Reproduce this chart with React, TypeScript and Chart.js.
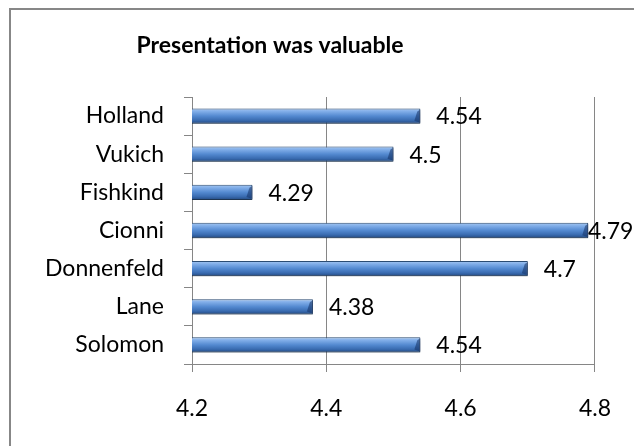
import React, { useEffect, useRef } from "react";
import { Chart, registerables } from "chart.js";

Chart.register(...registerables);

const categories = ["Holland", "Vukich", "Fishkind", "Cionni", "Donnenfeld", "Lane", "Solomon"];
const values = [4.54, 4.5, 4.29, 4.79, 4.7, 4.38, 4.54];
const titleText = "Presentation was valuable";
const xMin = 4.2;
const xMax = 4.8;
const xStep = 0.2;

const FONT = "Lato, 'Open Sans', 'DejaVu Sans', sans-serif";
const LABEL_SIZE = 23;
const BAR_PCT = 0.4;

const framePlugin = {
  id: "frame",
  beforeDraw(chart: any) {
    const c = chart.ctx;
    c.save();
    c.fillStyle = "#ffffff";
    c.fillRect(0, 0, chart.width, chart.height);
    c.strokeStyle = "#878787";
    c.lineWidth = 2;
    c.beginPath();
    c.moveTo(10, chart.height + 2);
    c.lineTo(10, 9);
    c.lineTo(chart.width + 2, 9);
    c.stroke();
    c.restore();
  },
  afterDraw(chart: any) {
    const c = chart.ctx;
    c.save();
    c.fillStyle = "#000000";
    c.font = `bold 23px ${FONT}`;
    c.textAlign = "center";
    c.textBaseline = "alphabetic";
    c.fillText(titleText, 270, 53);
    c.restore();
  },
};

const shadowPlugin = {
  id: "barShadow",
  beforeDatasetsDraw(chart: any) {
    const c = chart.ctx;
    c.save();
    c.shadowColor = "rgba(0,0,0,0.35)";
    c.shadowBlur = 4;
    c.shadowOffsetX = 1;
    c.shadowOffsetY = 3;
  },
  afterDatasetsDraw(chart: any) {
    const c = chart.ctx;
    c.restore();
    const meta = chart.getDatasetMeta(0);
    const area = chart.chartArea;
    c.save();
    meta.data.forEach((bar: any, i: number) => {
      const h = bar.height;
      const top = bar.y - h / 2;
      const bottom = bar.y + h / 2;
      c.fillStyle = "rgba(20,50,100,0.55)";
      c.beginPath();
      c.moveTo(bar.x, top + 1);
      c.lineTo(bar.x, bottom - 1);
      c.lineTo(bar.x - 6, bottom - 3);
      c.lineTo(bar.x - 3, top + 3);
      c.closePath();
      c.fill();
      c.fillStyle = "#000000";
      c.font = `${LABEL_SIZE}px ${FONT}`;
      c.textAlign = "left";
      c.textBaseline = "middle";
      const x = Math.min(bar.x + 16, area.right - 7);
      c.fillText(String(values[i]), x, bar.y + 1);
    });
    c.restore();
  },
};

export default function App() {
  const ref = useRef<HTMLCanvasElement | null>(null);
  useEffect(() => {
    if (!ref.current) return;
    const chart = new Chart(ref.current, {
      type: "bar",
      data: {
        labels: categories,
        datasets: [
          {
            data: values,
            borderColor: "#2c4d75",
            borderWidth: 1,
            borderSkipped: "start",
            barPercentage: BAR_PCT,
            categoryPercentage: 1,
            backgroundColor: (ctx: any) => {
              const ch = ctx.chart;
              const area = ch.chartArea;
              if (!area) return "#4F81BD";
              const yScale = ch.scales.y;
              const cy = yScale.getPixelForValue(ctx.dataIndex);
              const h = ((area.bottom - area.top) / categories.length) * BAR_PCT;
              const g = ch.ctx.createLinearGradient(0, cy - h / 2, 0, cy + h / 2);
              g.addColorStop(0, "#a6c8f2");
              g.addColorStop(0.2, "#80ade8");
              g.addColorStop(0.5, "#5389d0");
              g.addColorStop(0.78, "#396bb0");
              g.addColorStop(1, "#22487e");
              return g;
            },
          },
        ],
      },
      options: {
        indexAxis: "y",
        responsive: false,
        animation: false,
        layout: { padding: { left: 0, right: 35, top: 97, bottom: 22 } },
        plugins: {
          legend: { display: false },
          title: { display: false },
          tooltip: { enabled: false },
        },
        scales: {
          x: {
            min: xMin,
            max: xMax,
            ticks: {
              stepSize: xStep,
              color: "#000000",
              font: { family: FONT, size: LABEL_SIZE },
              padding: 23,
              callback: (v: any) => Number(v).toFixed(1),
            },
            grid: { color: "#868686", tickLength: 8, lineWidth: 1 },
            border: { display: true, color: "#868686" },
            afterFit: (s: any) => {
              s.height = 60;
            },
          },
          y: {
            ticks: {
              color: "#000000",
              font: { family: FONT, size: LABEL_SIZE },
              padding: 20,
            },
            grid: { drawOnChartArea: false, color: "#868686", tickLength: 8, offset: true },
            border: { display: true, color: "#868686" },
            afterFit: (s: any) => {
              s.width = 192;
            },
          },
        },
      },
      plugins: [framePlugin, shadowPlugin],
    } as any);
    return () => chart.destroy();
  }, []);
  return (
    <div style={{ position: "fixed", left: 0, top: 0, width: 634, height: 446 }}>
      <canvas ref={ref} width={634} height={446} />
    </div>
  );
}
